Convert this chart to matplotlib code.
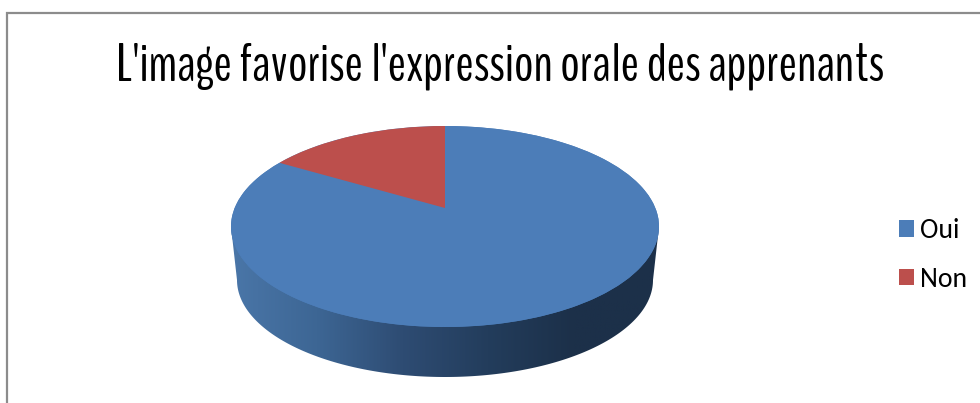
import numpy as np
import matplotlib
matplotlib.use('Agg')
import matplotlib.pyplot as plt
from matplotlib.colors import LinearSegmentedColormap
from matplotlib.patches import Ellipse, Polygon
from matplotlib.transforms import Transform

title = "L'image favorise l'expression orale des apprenants"
labels = ['Oui', 'Non']
values = [83.5, 16.5]
colors = ['#4c7db8', '#bc4f4c']

# top face of the pie in pixels, apex sits above the ellipse centre
cx, cy, rx, ry = 445, 226.5, 214, 100.5
apex_y = 208
# bottom rim of the side wall
bot_cy, bot_rx, bot_ry = 280, 208, 97


class PieTilt(Transform):
    # perspective: unit circle goes to the ellipse, centre goes to the apex
    input_dims = 2
    output_dims = 2

    def transform_non_affine(self, xy):
        xy = np.asarray(xy, dtype=float)
        v0 = (cy - apex_y) / ry
        d = 1 + v0 * xy[:, 1]
        u = xy[:, 0] * np.sqrt(1 - v0 ** 2) / d
        v = (xy[:, 1] + v0) / d
        return np.column_stack([cx + rx * u, cy - ry * v])


fig = plt.figure(figsize=(9.8, 4.03), dpi=100, facecolor='white')
ax = fig.add_axes([0, 0, 1, 1])

# side wall, gradient clipped to the rim shape
t = np.linspace(0, np.pi, 200)
rim = np.column_stack([cx + bot_rx * np.cos(t), bot_cy + bot_ry * np.sin(t)])
rim = np.vstack([[cx + rx, cy], rim, [cx - rx, cy]])
side_cmap = LinearSegmentedColormap.from_list(
    'side', ['#4a76a8', '#3d6694', '#2e4c73', '#233d5c', '#1c3049', '#1c3049'])
grad = ax.imshow(np.linspace(0, 1, 256)[None, :], cmap=side_cmap, aspect='auto',
                 extent=(cx - rx, cx + rx, 380, cy), zorder=1)
side = Polygon(rim, closed=True, facecolor='none', edgecolor='none')
ax.add_patch(side)
grad.set_clip_path(side)

ax.add_patch(Ellipse((cx, cy), 2 * rx, 2 * ry, facecolor=colors[0],
                     edgecolor='none', zorder=2))

wedges, _ = ax.pie(values, labels=None, colors=colors, startangle=90,
                   counterclock=False, radius=1, frame=True)
for w, label in zip(wedges, labels):
    w.set_transform(PieTilt() + ax.transData)
    w.set_zorder(3)
    w.set_label(label)

ax.set_aspect('auto')
ax.set_xlim(0, 980)
ax.set_ylim(403, 0)
ax.axis('off')

# chart frame, cut by the crop on the right and bottom
ax.plot([7, 7, 980], [403, 13, 13], color='#8c8c8c', lw=1.6, zorder=4,
        solid_joinstyle='miter')

# narrow font, sized so the title spans the same width as the reference
head = ax.text(500, 81, title, family=['BenchNine', 'DejaVu Sans'],
               fontsize=30, color='black', ha='center', va='baseline')
w_px = head.get_window_extent(fig.canvas.get_renderer()).width
head.set_fontsize(30 * 768 / w_px)

ax.legend(wedges, labels, loc='center left', bbox_to_anchor=(899 / 980, 1 - 255 / 403),
          frameon=False, prop={'family': ['Carlito', 'Open Sans'], 'size': 20},
          handlelength=0.54, handleheight=0.54, handletextpad=0.2,
          labelspacing=0.86, borderpad=0, borderaxespad=0)

plt.savefig('out.png', dpi=100)
